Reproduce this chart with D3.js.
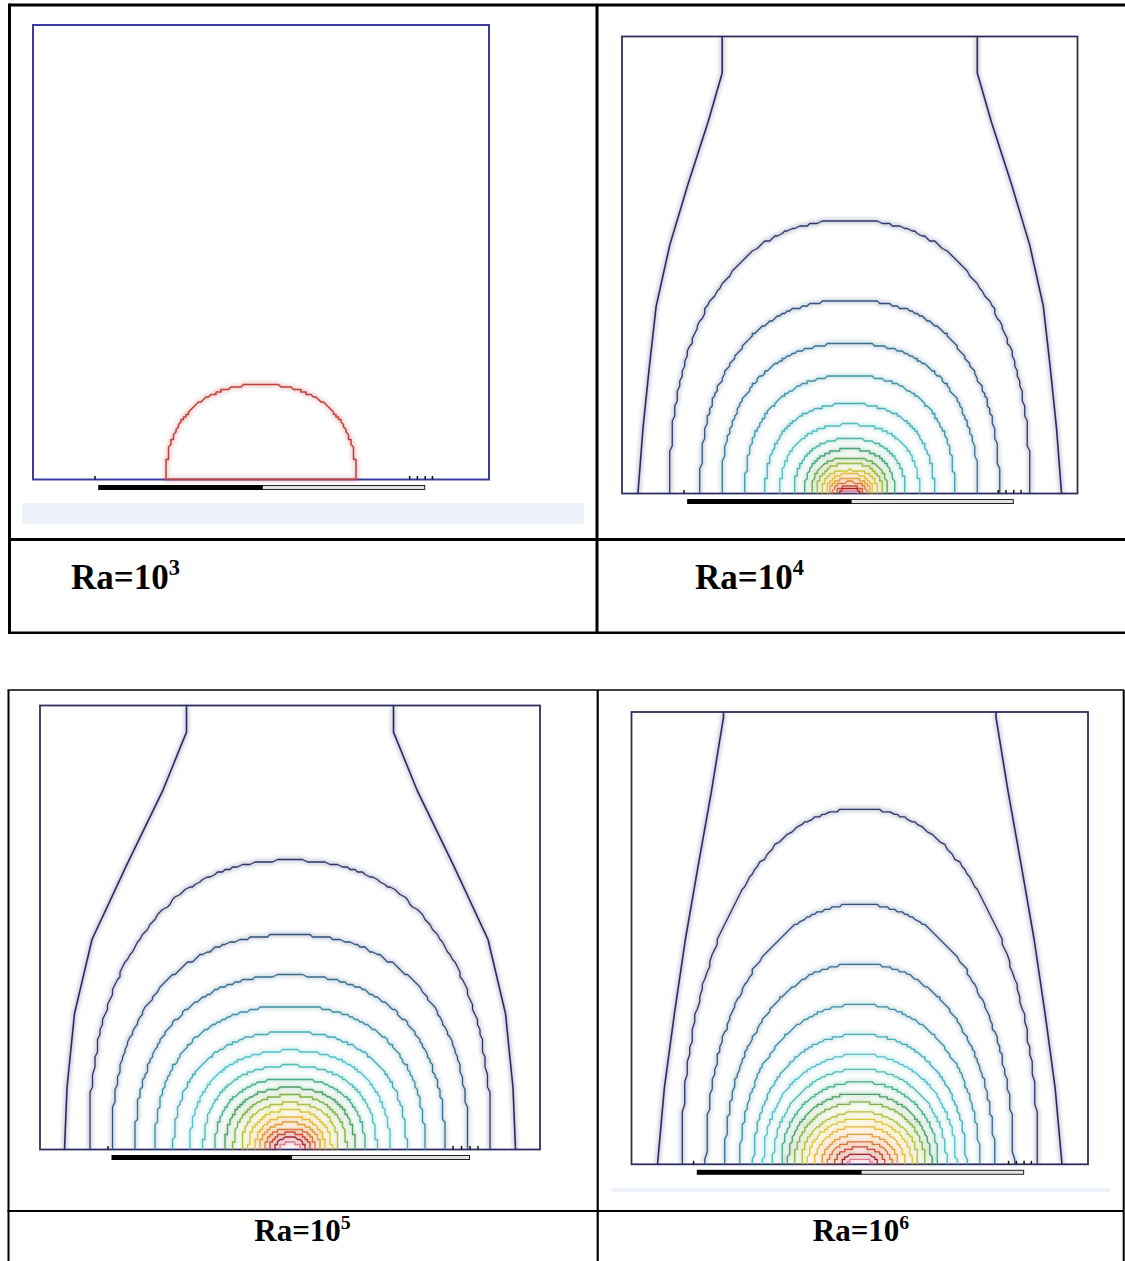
<!DOCTYPE html>
<html>
<head>
<meta charset="utf-8">
<script src="https://cdn.jsdelivr.net/npm/d3@7"></script>
<style>
body { margin: 0; background: #fff; }
svg { display: block; }
</style>
</head>
<body>
<div id="chart"></div>
<script>
// Rayleigh number of each panel (power of ten)
const raExponents = [3, 4, 5, 6];

// heater strip below the cavity and the small wall marks, as fractions of cavity width
const heaterStart = 0.143, heaterMid = 0.503, heaterEnd = 0.859;
const wallMarks = [0.136, 0.826, 0.843, 0.86, 0.876];

// isotherm colour levels, outermost (cold) to innermost (hot)
const isoColors = ["#2b2b63", "#2d3569", "#34507c", "#396d8e", "#3f8ea3", "#48aab7", "#55c0c6",
  "#52bdb5", "#47ab8e", "#4a9f62", "#7fb14a", "#b1bf42", "#d8c63f", "#e8b83c", "#e49a39",
  "#dc7333", "#cb4a2c", "#a82424", "#e07a92"];

// Ra=10^3 : one isotherm only (half width and height, fractions of cavity)
const ra3HalfWidth = [0.208];
const ra3Height = [0.208];

// Ra=10^4 : outer isotherm reaching the top wall (height, distance from centre line)
const ra4OuterY   = [1.0, 0.92, 0.813, 0.677, 0.544, 0.41, 0.277, 0.142, 0.0];
const ra4OuterOff = [0.28, 0.28, 0.311, 0.355, 0.395, 0.425, 0.44, 0.454, 0.465];
// closed domes over the heater
const ra4HalfWidth = [0.395, 0.328, 0.281, 0.23, 0.185, 0.153, 0.122, 0.099, 0.084, 0.073, 0.062, 0.051, 0.044, 0.037, 0.03, 0.022, 0.015];
const ra4Height    = [0.598, 0.423, 0.329, 0.258, 0.196, 0.151, 0.12, 0.097, 0.079, 0.066, 0.052, 0.043, 0.034, 0.025, 0.016, 0.011, 0.007];

// Ra=10^5
const ra5OuterY   = [1.0, 0.94, 0.807, 0.64, 0.473, 0.306, 0.139, 0.0];
const ra5OuterOff = [0.207, 0.207, 0.255, 0.327, 0.396, 0.431, 0.446, 0.451];
const ra5HalfWidth = [0.402, 0.357, 0.31, 0.27, 0.233, 0.2, 0.173, 0.15, 0.13, 0.113, 0.097, 0.083, 0.07, 0.06, 0.05, 0.04, 0.03, 0.02];
const ra5Height    = [0.651, 0.483, 0.392, 0.323, 0.264, 0.223, 0.189, 0.16, 0.139, 0.122, 0.105, 0.089, 0.073, 0.06, 0.047, 0.037, 0.027, 0.016];

// Ra=10^6
const ra6OuterY   = [1.0, 0.988, 0.824, 0.66, 0.497, 0.333, 0.169, 0.0];
const ra6OuterOff = [0.2985, 0.2985, 0.325, 0.354, 0.382, 0.406, 0.428, 0.443];
const ra6HalfWidth = [0.39, 0.337, 0.295, 0.262, 0.233, 0.211, 0.19, 0.172, 0.157, 0.143, 0.128, 0.114, 0.099, 0.084, 0.07, 0.055, 0.04, 0.026];
const ra6Height    = [0.787, 0.575, 0.444, 0.354, 0.288, 0.243, 0.21, 0.182, 0.157, 0.137, 0.116, 0.1, 0.084, 0.067, 0.051, 0.037, 0.024, 0.012];

// panel layout on the page
const panels = [
  {x0: 33, x1: 489, top: 25, base: 479.5, frame: "#3c3ca2", frameW: 2,
   halfWidth: ra3HalfWidth, height: ra3Height, single: "#c0403c", shape: 2.3,
   band: {x: 22, y: 503, w: 562, h: 21}},
  {x0: 622, x1: 1077.5, top: 36.5, base: 493.5, frame: "#30305f", frameW: 1.8,
   outerY: ra4OuterY, outerOff: ra4OuterOff, halfWidth: ra4HalfWidth, height: ra4Height, shape: 2.3},
  {x0: 40, x1: 540, top: 705.5, base: 1149.5, frame: "#30305f", frameW: 1.8,
   outerY: ra5OuterY, outerOff: ra5OuterOff, halfWidth: ra5HalfWidth, height: ra5Height, shape: 2.3},
  {x0: 631.5, x1: 1088, top: 712, base: 1164.3, frame: "#30305f", frameW: 1.8,
   outerY: ra6OuterY, outerOff: ra6OuterOff, halfWidth: ra6HalfWidth, height: ra6Height, shape: 2.1,
   band: {x: 611, y: 1188, w: 499, h: 4}}
];

// label placement: [x, baseline, anchor, size]
const labelPos = [[71, 589, "start", 35], [695, 589, "start", 35], [302.5, 1241, "middle", 31], [861, 1241, "middle", 31]];

const W = 1125, H = 1261;
const svg = d3.select("#chart").append("svg").attr("width", W).attr("height", H);
svg.append("rect").attr("width", W).attr("height", H).attr("fill", "#fff");

svg.append("defs").append("filter").attr("id", "soft")
  .attr("x", "-20%").attr("y", "-20%").attr("width", "140%").attr("height", "140%")
  .append("feGaussianBlur").attr("stdDeviation", 2.2);

const line = d3.line();

// superellipse dome, snapped to a coarse grid like the solver mesh
function domePoints(a, h, n, x, y, grid) {
  const pts = [];
  const steps = 160;
  const bx = x(0.5), by = y(0);
  for (let k = 0; k <= steps; k++) {
    const th = Math.PI * k / steps;
    const c = Math.cos(th), s = Math.sin(th);
    const u = Math.sign(c) * Math.pow(Math.abs(c), 2 / n);
    const v = Math.pow(s, 2 / n);
    let px = x(0.5 - a * u), py = y(h * v);
    px = bx + Math.round((px - bx) / grid) * grid;
    py = by - Math.round((by - py) / grid) * grid;
    const last = pts[pts.length - 1];
    if (!last || last[0] !== px || last[1] !== py) pts.push([px, py]);
  }
  return pts;
}

function drawPanel(p) {
  const x = d3.scaleLinear().domain([0, 1]).range([p.x0, p.x1]);
  const y = d3.scaleLinear().domain([0, 1]).range([p.base, p.top]);
  const g = svg.append("g");

  if (p.band) {
    g.append("rect").attr("x", p.band.x).attr("y", p.band.y)
      .attr("width", p.band.w).attr("height", p.band.h).attr("fill", "#edf1f8");
  }

  g.append("rect")
    .attr("x", p.x0).attr("y", p.top)
    .attr("width", p.x1 - p.x0).attr("height", p.base - p.top)
    .attr("fill", "#fff").attr("stroke", p.frame).attr("stroke-width", p.frameW);

  // collect isotherms
  const curves = [];
  const nLevels = p.halfWidth.length + (p.outerY ? 1 : 0);
  const color = d3.scaleLinear()
    .domain(isoColors.map((c, i) => i / (isoColors.length - 1)))
    .range(isoColors);
  let level = 0;
  if (p.outerY) {
    const c = color(0);
    const left = p.outerY.map((v, i) => [x(0.5 - p.outerOff[i]), y(v)]);
    const right = p.outerY.map((v, i) => [x(0.5 + p.outerOff[i]), y(v)]);
    curves.push({d: line(left), color: c, w: 1.6});
    curves.push({d: line(right), color: c, w: 1.6});
    level = 1;
  }
  p.halfWidth.forEach((a, i) => {
    const pts = domePoints(a, p.height[i], p.shape, x, y, 2.5);
    const c = p.single ? p.single : color((level + i) / (nLevels - 1));
    curves.push({d: line(pts) + (p.single ? "Z" : ""), color: c, w: p.single ? 1.5 : 1.3});
  });

  // faint colour halo (the original is a blurred raster)
  g.append("g").attr("filter", "url(#soft)").attr("opacity", 0.3)
    .selectAll("path").data(curves).join("path")
    .attr("d", d => d.d).attr("fill", "none")
    .attr("stroke", d => d.color).attr("stroke-width", 4);

  g.append("g").selectAll("path").data(curves).join("path")
    .attr("d", d => d.d).attr("fill", "none")
    .attr("stroke", d => d.color).attr("stroke-width", d => d.w)
    .attr("stroke-linejoin", "round");

  // wall marks
  g.append("g").selectAll("line").data(wallMarks).join("line")
    .attr("x1", d => x(d)).attr("x2", d => x(d))
    .attr("y1", p.base).attr("y2", p.base - 3.5)
    .attr("stroke", "#111").attr("stroke-width", 1.5);

  // heater strip: hot half black, other half light
  const hy = p.base + 5.5, hh = 5;
  g.append("rect").attr("x", x(heaterMid)).attr("y", hy + 0.5)
    .attr("width", x(heaterEnd) - x(heaterMid)).attr("height", hh - 1)
    .attr("fill", "#e2e2e2").attr("stroke", "#222").attr("stroke-width", 1);
  g.append("rect").attr("x", x(heaterStart)).attr("y", hy)
    .attr("width", x(heaterMid) - x(heaterStart)).attr("height", hh)
    .attr("fill", "#000");
}

panels.forEach(drawPanel);

// table rules
const rules = [
  // top table
  [9.5, 5, 1127, 5, 3], [9.5, 3.5, 9.5, 634, 3], [9.5, 632.7, 1127, 632.7, 2.5],
  [597, 5, 597, 633, 3], [9.5, 539.5, 1127, 539.5, 3],
  // bottom table
  [7.5, 690, 1124, 690, 1.6], [8.5, 690, 8.5, H, 2], [1123.7, 690, 1123.7, H, 2],
  [597.7, 690, 597.7, H, 2.2], [7.5, 1211, 1124, 1211, 2.2]
];
svg.append("g").selectAll("line").data(rules).join("line")
  .attr("x1", d => d[0]).attr("y1", d => d[1])
  .attr("x2", d => d[2]).attr("y2", d => d[3])
  .attr("stroke", "#000").attr("stroke-width", d => d[4]);

// labels
const labels = svg.append("g")
  .attr("font-family", "'Liberation Serif', 'Times New Roman', serif")
  .attr("font-weight", "bold").attr("fill", "#000");
raExponents.forEach((e, i) => {
  const [lx, ly, anchor, size] = labelPos[i];
  const t = labels.append("text").attr("x", lx).attr("y", ly)
    .attr("text-anchor", anchor).attr("font-size", size);
  t.append("tspan").text("Ra=10");
  t.append("tspan").attr("font-size", size * 0.64).attr("dy", -size * 0.4).text(e);
});
</script>
</body>
</html>
